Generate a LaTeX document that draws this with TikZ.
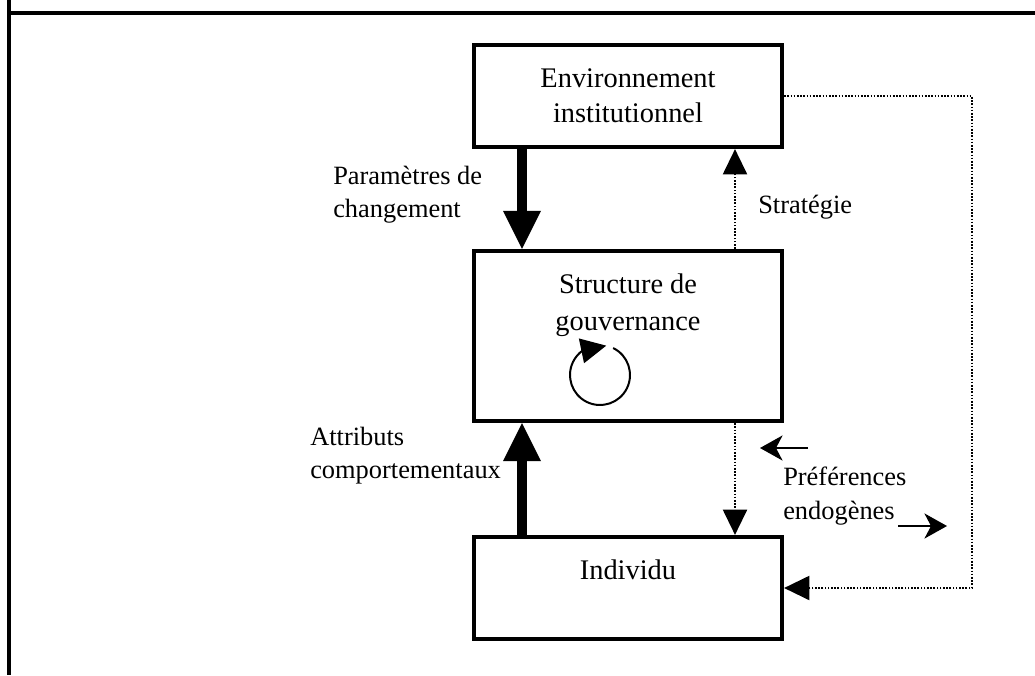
\documentclass[tikz,border=0pt]{standalone}
\usepackage{fontspec}
\setmainfont{Liberation Serif}
\usetikzlibrary{arrows.meta,bending}

\begin{document}
\begin{tikzpicture}[x=0.75pt,y=-0.75pt,
    frame/.style={line width=2.6pt},
    box/.style={draw, line width=3.2pt, minimum width=231pt, align=center, inner sep=0pt,
      font=\fontsize{21.3pt}{26.25pt}\selectfont},
    boxtext/.style={align=center, inner sep=0pt, font=\fontsize{21.3pt}{27.75pt}\selectfont},
    lbl/.style={align=left, anchor=west, inner sep=0pt, font=\fontsize{19.8pt}{25pt}\selectfont},
    heavy/.style={line width=6.8pt, -{Triangle[length=28.5pt,width=28.5pt,line width=0pt]}},
    dots/.style={line width=1.2pt, dash pattern=on 1.2pt off 1.2pt},
    dotarrow/.style={dots, -{Triangle[length=19pt,width=18.5pt,line width=0pt]}},
    small/.style={line width=2.2pt, -{Stealth[length=17pt,width=19pt,inset=5pt,line width=0pt]}},
    loopy/.style={line width=1.5pt, -{Triangle[length=19pt,width=19pt,line width=0pt,flex]}},
  ]

  \useasboundingbox (0,0) rectangle (1035,675);

  % frame
  \draw[frame] (9,0) -- (9,675);
  \draw[frame] (9,13) -- (1035,13);

  \begin{scope}[every node/.style={box}]
    \node[minimum height=76.5pt]  (env) at (628,96)  {Environnement\\institutionnel};
    \node[minimum height=127.5pt] (gov) at (628,336) {};
    \node[minimum height=76.5pt]  (ind) at (628,588) {};
  \end{scope}

  \node[boxtext] (govtext) at (628,305.5) {Structure de\\gouvernance};
  \node[boxtext, anchor=base] (indtext) at (628,579) {Individu};

  \node[lbl] (param) at (333,195)   {Paramètres de\\changement};
  \node[lbl] (attr)  at (310,455.5) {Attributs\\comportementaux};
  \node[lbl] (strat) at (758,207)   {Stratégie};
  \node[lbl] (pref)  at (783,496)   {Préférences\\endogènes};

  \coordinate (tx)   at (522,0);
  \coordinate (sx)   at (735,0);
  \coordinate (loop) at (972,96);
  \coordinate (la)   at (808,448);
  \coordinate (lb)   at (760,448);
  \coordinate (ra)   at (898,526);
  \coordinate (rb)   at (947,526);
  \coordinate (cyc)  at (600,375);

  \path (env.south -| tx) edge[heavy] (gov.north -| tx);
  \path (ind.north -| tx) edge[heavy] (gov.south -| tx);
  \path (gov.north -| sx) edge[dotarrow] (env.south -| sx);
  \path (gov.south -| sx) edge[dotarrow] (ind.north -| sx);
  \draw[dotarrow] (env.east) -- (loop) |- (ind.east);
  \path (la) edge[small] (lb);
  \path (ra) edge[small] (rb);

  \draw[loopy] ([shift={(64:22.5pt)}]cyc) arc[start angle=64, end angle=-282, radius=22.5pt];

\end{tikzpicture}
\end{document}
